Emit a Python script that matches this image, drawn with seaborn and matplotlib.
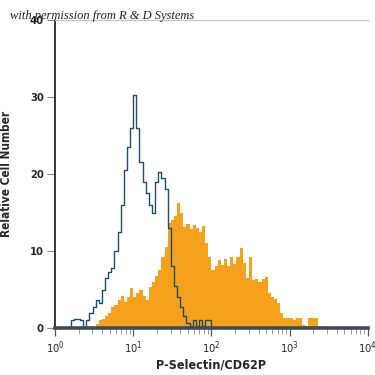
import matplotlib
matplotlib.use('Agg')

import matplotlib.pyplot as plt
import numpy as np
import pandas as pd
import seaborn as sns

# histogram counts, 100 channels of 0.04 log10 units from 10^0 to 10^4
isotype_counts = [
    0, 0, 0, 0, 0, 1, 1.2, 1.2, 1, 0,
    1, 2, 2.7, 3.6, 3.2, 5, 6.5, 7.3, 7.8, 10,
    12.5, 16, 20.5, 23.5, 26, 30.3, 26, 21.5, 19, 17.5,
    16, 15, 19, 20.3, 19.5, 18, 13, 8, 5.5, 4,
    2.7, 1.5, 0.6, 0.2, 1, 0.3, 1, 0.3, 1, 1,
] + [0] * 50

pselectin_counts = [
    0, 0, 0, 0, 0, 0, 0, 0, 0, 0,
    0, 0, 0, 0.5, 1, 1.2, 1.6, 1.9, 2.7, 3.0,
    3.6, 4.2, 3.4, 4.0, 5.2, 4.0, 4.5, 5.0, 4.2, 3.6,
    5.3, 6.0, 6.8, 7.5, 9.2, 10.5, 13.6, 14.0, 14.5, 16.2,
    15.0, 13.1, 13.5, 12.8, 13.4, 13.0, 12.5, 13.2, 11.0, 9.2,
    7.5, 8.0, 8.8, 8.2, 9.0, 8.0, 9.2, 8.3, 9.2, 10.4,
    8.5, 6.5, 9.2, 6.2, 6.4, 6.0, 6.3, 6.6, 4.5, 4.0,
    3.8, 3.2, 2.0, 1.3, 1.3, 1.3, 1.0, 1.3, 1.3, 0.4,
    0.3, 1.3, 1.3, 1.3, 0.3, 0, 0, 0, 0, 0,
    0, 0, 0, 0, 0, 0, 0, 0, 0, 0,
]

bin_w = 0.04
channels = 10 ** (np.arange(len(isotype_counts)) * bin_w + bin_w / 2)

df = pd.DataFrame({
    'intensity': channels,
    'isotype': isotype_counts,
    'pselectin': pselectin_counts,
})

sns.set_style('white')
plt.rcParams['font.family'] = ['DejaVu Sans']
plt.rcParams['font.stretch'] = 'condensed'
plt.rcParams['mathtext.default'] = 'regular'

fig = plt.figure(figsize=(3.75, 3.75), dpi=100)
ax = fig.add_axes([0.1467, 0.1253, 0.8343, 0.8214])

sns.histplot(data=df, x='intensity', weights='pselectin', log_scale=True,
             binwidth=bin_w, binrange=(0, 4), element='step', fill=True,
             color='#f5a11c', alpha=1, linewidth=0, ax=ax)
sns.histplot(data=df, x='intensity', weights='isotype', log_scale=True,
             binwidth=bin_w, binrange=(0, 4), element='step', fill=False,
             color='#1f4f68', linewidth=1.0, ax=ax)

ax.set_xlim(1, 1e4)
ax.set_ylim(0, 40)
ax.set_yticks([0, 10, 20, 30, 40])

ax.spines['right'].set_visible(False)
ax.spines['top'].set_color('#c8c8c8')
ax.spines['top'].set_linewidth(1)
ax.spines['left'].set_color('black')
ax.spines['left'].set_linewidth(1.1)
ax.spines['bottom'].set_color('#3e4b55')
ax.spines['bottom'].set_linewidth(2.6)

ax.tick_params(axis='y', which='major', direction='out', length=6, width=0.8,
               color='#888888', labelsize=8, left=True, pad=2)
ax.tick_params(axis='x', which='major', direction='out', length=6, width=0.9,
               color='#555555', labelsize=8, bottom=True, pad=2)
ax.tick_params(axis='x', which='minor', direction='out', length=4, width=0.7,
               color='#999999', bottom=True)
for lbl in ax.get_yticklabels():
    lbl.set_fontweight('bold')

ax.set_xlabel('P-Selectin/CD62P', fontsize=9, fontweight='bold', labelpad=2)
ax.set_ylabel('Relative Cell Number', fontsize=8.5, fontweight='bold', labelpad=12)

fig.text(10 / 375, 1 - 19 / 375, 'with permission from R & D Systems',
         fontsize=9, style='italic', family=['Liberation Serif', 'DejaVu Serif'],
         color='#222222', va='baseline', ha='left')

fig.savefig('out.png', dpi=100)
